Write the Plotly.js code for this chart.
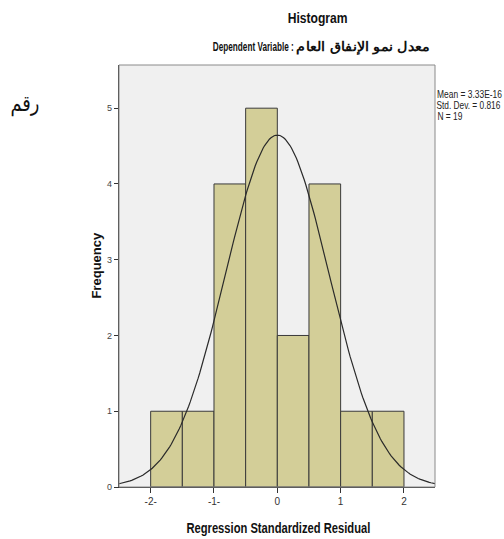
<!DOCTYPE html>
<html>
<head>
<meta charset="utf-8">
<script src="https://cdn.plot.ly/plotly-3.0.1.min.js"></script>
<style>html,body{margin:0;padding:0;background:#fff;}#chart{width:504px;height:539px;}</style>
</head>
<body>
<div id="chart"></div>
<script>
// Data
const binCenters = [-1.75, -1.25, -0.75, -0.25, 0.25, 0.75, 1.25, 1.75];
const frequencies = [1, 1, 4, 5, 2, 4, 1, 1];
const binWidth = 0.5;
const statMean = 3.33e-16;
const statSD = 0.816;
const statN = 19;
const xTickVals = [-2, -1, 0, 1, 2];
const xTickText = ["-2-", "-1-", "0", "1", "2"];
const yTickVals = [0, 1, 2, 3, 4, 5];
const statLines = ["Mean = 3.33E-16", "Std. Dev. = 0.816", "N = 19"];

// Normal curve from the stated mean / SD / N (scaled to bin width)
const curveX = [], curveY = [];
for (let i = 0; i <= 200; i++) {
  const x = -2.5 + i * 5 / 200;
  const z = (x - statMean) / statSD;
  curveX.push(x);
  curveY.push(statN * binWidth / (statSD * Math.sqrt(2 * Math.PI)) * Math.exp(-0.5 * z * z));
}

const sans = "Liberation Sans, Arial, sans-serif";
const L = 119, W = 316, T = 65, H = 422;
const px = v => (v - L) / W;          // page px -> paper x
const py = v => 1 - (v - T) / H;      // page px -> paper y

const traces = [
  {
    type: "bar", x: binCenters, y: frequencies, width: binWidth,
    marker: {color: "#d3ce98", line: {color: "#3a3a3a", width: 1}},
    hoverinfo: "none", showlegend: false
  },
  {
    type: "scatter", mode: "lines", x: curveX, y: curveY,
    line: {color: "#2a2a2a", width: 1.2}, hoverinfo: "none", showlegend: false
  }
];

// annotations (centered) with target text widths (px) for a condensed look
const ann = [];
const widths = [];
function addAnn(text, left, w, cy, size, bold, extra) {
  const a = Object.assign({
    text: text, x: px(left + w / 2), y: py(cy), xanchor: "center", yanchor: "middle",
    xref: "paper", yref: "paper", showarrow: false,
    font: {family: sans, size: size, color: "#111", weight: bold ? "bold" : "normal"}
  }, extra || {});
  ann.push(a); widths.push(w);
}

addAnn("Histogram", 287, 60, 18, 14, true);
addAnn("Dependent Variable :", 213, 81, 47, 13, true);
addAnn("معدل نمو الإنفاق العام", 297, 133, 47, 13, true);
addAnn("Regression Standardized Residual", 186, 184, 527, 15, true);
const statY = [95, 106, 117], statW = [65, 64, 25];
statLines.forEach((s, i) => addAnn(s, 437, statW[i], statY[i], 10, false, {font: {family: sans, size: 10, color: "#222"}}));
addAnn("رقم", 10, 29, 104, 22, false, {font: {family: "DejaVu Sans, Noto Sans, sans-serif", size: 22, color: "#111"}});
ann.push({text: "Frequency", x: px(97), y: py(266), xanchor: "center", yanchor: "middle", textangle: -90,
  xref: "paper", yref: "paper", showarrow: false,
  font: {family: sans, size: 12, color: "#111", weight: "bold"}});
widths.push(66);

const layout = {
  width: 504, height: 539,
  margin: {l: L, r: 504 - L - W, t: T, b: 539 - T - H},
  paper_bgcolor: "#ffffff",
  plot_bgcolor: "#f0f0f0",
  bargap: 0,
  xaxis: {
    range: [-2.5, 2.49], tickvals: xTickVals, ticktext: xTickText,
    ticks: "outside", ticklen: 5, tickcolor: "#333", tickwidth: 1,
    showgrid: false, zeroline: false, showline: true, linecolor: "#333", linewidth: 1.2,
    tickfont: {family: sans, size: 10, color: "#333"}
  },
  yaxis: {
    range: [0, 5.57], tickvals: yTickVals,
    ticks: "outside", ticklen: 4, tickcolor: "#333", tickwidth: 1,
    showgrid: false, zeroline: false, showline: true, linecolor: "#333", linewidth: 1.2,
    tickfont: {family: sans, size: 9, color: "#444"}
  },
  shapes: [
    {type: "rect", xref: "paper", yref: "paper", x0: 0, x1: 1, y0: 0, y1: 1,
     line: {color: "#8a8a8a", width: 1}, fillcolor: "rgba(0,0,0,0)", layer: "above"}
  ],
  annotations: ann
};

Plotly.newPlot("chart", traces, layout, {staticPlot: true, displayModeBar: false}).then(gd => {
  const groups = gd.querySelectorAll("g.annotation");
  groups.forEach((g, i) => {
    const t = g.querySelector("text.annotation-text");
    const bg = g.querySelector("rect.bg");
    if (!t || !widths[i]) return;
    const nat = t.getComputedTextLength();
    if (!nat) return;
    const k = widths[i] / nat;
    [t, bg].forEach(el => {
      if (!el) return;
      el.style.transformBox = "fill-box";
      el.style.transformOrigin = "center";
      el.style.transform = "scaleX(" + k + ")";
    });
  });
});
</script>
</body>
</html>
